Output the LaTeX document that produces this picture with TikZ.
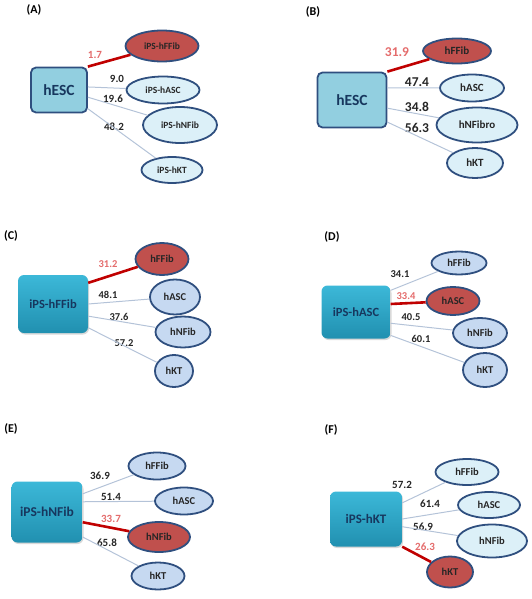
\documentclass[tikz,border=0pt]{standalone}
\usepackage{fontspec}
\setmainfont{Carlito}
\usepackage{xcolor}
\usepackage{tikz}
\usetikzlibrary{shapes.geometric,shadows,positioning}

\definecolor{navy}{HTML}{2F4F7F}
\definecolor{hubblue}{HTML}{92CFE0}
\definecolor{hubtext}{HTML}{17375E}
\definecolor{paleblue}{HTML}{DCF0F8}
\definecolor{lightblue}{HTML}{C6D9F1}
\definecolor{redfill}{HTML}{C0504D}
\definecolor{tealtop}{HTML}{3CB8D8}
\definecolor{tealbot}{HTML}{2190B0}
\definecolor{salmon}{HTML}{E46C6C}
\definecolor{linkgray}{HTML}{B4C3D8}
\definecolor{hitred}{HTML}{C00000}

\begin{document}
\begin{tikzpicture}[
  x=1pt, y=-1pt,
  tag/.style={font=\bfseries\fontsize{12}{12}\selectfont},
  hub/.style={rectangle, rounded corners=5pt, draw=navy, line width=1.8pt, fill=hubblue, text=hubtext, font=\bfseries\fontsize{15.5}{16}\selectfont},
  hubg/.style={rectangle, rounded corners=6pt, top color=tealtop, bottom color=tealbot, drop shadow={opacity=0.3, shadow xshift=1pt, shadow yshift=-1.5pt}, text=hubtext, font=\bfseries\fontsize{12.5}{13}\selectfont},
  cell/.style={ellipse, inner sep=0pt, draw=navy, line width=1.8pt, fill=lightblue, text=black!85, font=\bfseries\fontsize{10.5}{11}\selectfont},
  pale/.style={cell, fill=paleblue},
  hit/.style={cell, fill=redfill},
  link/.style={draw=linkgray, line width=1pt},
  hitlink/.style={draw=hitred, line width=2.6pt},
  num/.style={text=black!85, font=\bfseries\fontsize{11}{11}\selectfont},
  hitnum/.style={num, text=salmon}
]
\useasboundingbox (0,0) rectangle (531,599);

\node[tag] (ta) at (34,10) {(A)};
\node[hub, minimum width=56, minimum height=45] (a0) at (59,90) {hESC};
\node[hit, minimum width=73, minimum height=31, font=\bfseries\fontsize{9.5}{10}\selectfont] (a1) at (162,46) {iPS-hFFib};
\node[pale, minimum width=73, minimum height=27, font=\bfseries\fontsize{9.5}{10}\selectfont] (a2) at (163,90) {iPS-hASC};
\node[pale, minimum width=74, minimum height=36, font=\bfseries\fontsize{9.5}{10}\selectfont] (a3) at (180,125) {iPS-hNFib};
\node[pale, minimum width=61, minimum height=26, font=\bfseries\fontsize{9.5}{10}\selectfont] (a4) at (172,170) {iPS-hKT};
\node[hitnum] (na1) at (95,55) {1.7};
\node[num] (na2) at (117,79) {9.0};
\node[num] (na3) at (113,99) {19.6};
\node[num] (na4) at (114,127) {48.2};
\draw[hitlink] (a0.north east) -- (a1);
\draw[link] (a0.6) -- (a2);
\draw[link] (a0.-14) -- (a3);
\draw[link] (a0.-33) -- (a4);

\node[tag] (tb) at (313,12) {(B)};
\node[hub, minimum width=69, minimum height=55] (b0) at (352,100) {hESC};
\node[hit, minimum width=68, minimum height=25, font=\bfseries\fontsize{11}{11}\selectfont] (b1) at (457,51) {hFFib};
\node[pale, minimum width=64, minimum height=27, font=\bfseries\fontsize{11}{11}\selectfont] (b2) at (472,88) {hASC};
\node[pale, minimum width=81, minimum height=35, font=\bfseries\fontsize{11}{11}\selectfont] (b3) at (477,125) {hNFibro};
\node[pale, minimum width=56, minimum height=30, font=\bfseries\fontsize{11}{11}\selectfont] (b4) at (475,163) {hKT};
\node[hitnum, font=\bfseries\fontsize{13.5}{14}\selectfont] (nb1) at (397,52) {31.9};
\node[num, font=\bfseries\fontsize{13.5}{14}\selectfont] (nb2) at (417,82) {47.4};
\node[num, font=\bfseries\fontsize{13.5}{14}\selectfont] (nb3) at (417,107) {34.8};
\node[num, font=\bfseries\fontsize{13.5}{14}\selectfont] (nb4) at (417,128) {56.3};
\draw[hitlink] (b0.north east) -- (b1);
\draw[link] (b0.19) -- (b2);
\draw[link] (b0.-13) -- (b3);
\draw[link] (b0.-32) -- (b4);

\node[tag] (tc) at (11,236) {(C)};
\node[hubg, minimum width=70, minimum height=58] (c0) at (53,304) {iPS-hFFib};
\node[hit, minimum width=53, minimum height=32] (c1) at (162,259) {hFFib};
\node[cell, minimum width=50, minimum height=35] (c2) at (175,297) {hASC};
\node[cell, minimum width=55, minimum height=31] (c3) at (183,332) {hNFib};
\node[cell, minimum width=38, minimum height=32] (c4) at (174,371) {hKT};
\node[hitnum, font=\bfseries\fontsize{10.5}{11}\selectfont] (nc1) at (108,264) {31.2};
\node[num, font=\bfseries\fontsize{10.5}{11}\selectfont] (nc2) at (108,295) {48.1};
\node[num, font=\bfseries\fontsize{10.5}{11}\selectfont] (nc3) at (119,317) {37.6};
\node[num, font=\bfseries\fontsize{10.5}{11}\selectfont] (nc4) at (124,343) {57.2};
\draw[hitlink] (c0.31) -- (c1);
\draw[link] (c0.0) -- (c2);
\draw[link] (c0.-19) -- (c3);
\draw[link] (c0.-34) -- (c4);

\node[tag] (td) at (332,237) {(D)};
\node[hubg, minimum width=69, minimum height=53] (d0) at (356,312) {iPS-hASC};
\node[cell, minimum width=55, minimum height=23] (d1) at (459,263) {hFFib};
\node[hit, minimum width=53, minimum height=28] (d2) at (453,301) {hASC};
\node[cell, minimum width=54, minimum height=30] (d3) at (480,333) {hNFib};
\node[cell, minimum width=44, minimum height=34] (d4) at (485,370) {hKT};
\node[num, font=\bfseries\fontsize{10.5}{11}\selectfont] (nd1) at (400,274) {34.1};
\node[hitnum, font=\bfseries\fontsize{10.5}{11}\selectfont] (nd2) at (406,296) {33.4};
\node[num, font=\bfseries\fontsize{10.5}{11}\selectfont] (nd3) at (411,317) {40.5};
\node[num, font=\bfseries\fontsize{10.5}{11}\selectfont] (nd4) at (421,339) {60.1};
\draw[link] (d0.32) -- (d1);
\draw[hitlink] (d0.13) -- (d2);
\draw[link] (d0.-18) -- (d3);
\draw[link] (d0.-34) -- (d4);

\node[tag] (te) at (11,429) {(E)};
\node[hubg, minimum width=71, minimum height=61, font=\bfseries\fontsize{13.5}{14}\selectfont] (e0) at (47,512) {iPS-hNFib};
\node[cell, minimum width=57, minimum height=27] (e1) at (157,466) {hFFib};
\node[cell, minimum width=58, minimum height=27] (e2) at (184,501) {hASC};
\node[hit, minimum width=62, minimum height=30] (e3) at (159,537) {hNFib};
\node[cell, minimum width=53, minimum height=27] (e4) at (158,576) {hKT};
\node[num] (ne1) at (100,476) {36.9};
\node[num] (ne2) at (111,497) {51.4};
\node[hitnum] (ne3) at (111,519) {33.7};
\node[num] (ne4) at (107,543) {65.8};
\draw[link] (e0.27) -- (e1);
\draw[link] (e0.16) -- (e2);
\draw[hitlink] (e0.-16) -- (e3);
\draw[link] (e0.-35) -- (e4);

\node[tag] (tf) at (331,430) {(F)};
\node[hubg, minimum width=72, minimum height=55, font=\bfseries\fontsize{13}{13}\selectfont] (f0) at (366,519) {iPS-hKT};
\node[pale, minimum width=63, minimum height=26] (f1) at (467,472) {hFFib};
\node[pale, minimum width=62, minimum height=26] (f2) at (489,505) {hASC};
\node[pale, minimum width=70, minimum height=33] (f3) at (492,541) {hNFib};
\node[hit, minimum width=46, minimum height=31] (f4) at (450,572) {hKT};
\node[num] (nf1) at (402,485) {57.2};
\node[num] (nf2) at (430,504) {61.4};
\node[num] (nf3) at (423,527) {56.9};
\node[hitnum] (nf4) at (425,547) {26.3};
\draw[link] (f0.24) -- (f1);
\draw[link] (f0.east) -- (f2);
\draw[link] (f0.-12) -- (f3);
\draw[hitlink] (f0.south east) -- (f4);
\end{tikzpicture}
\end{document}
